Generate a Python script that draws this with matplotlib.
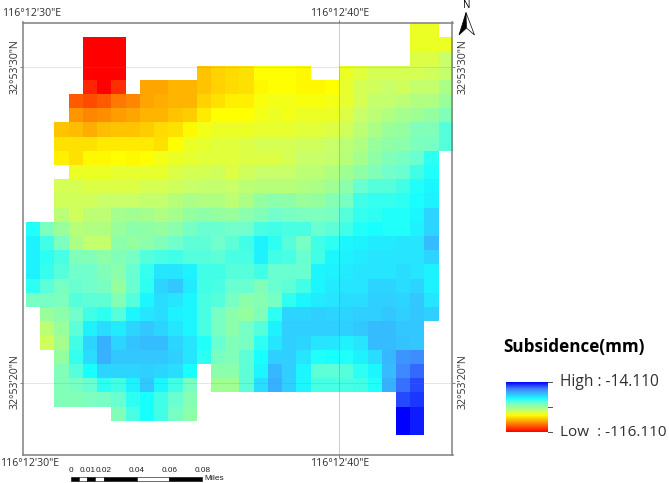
import numpy as np
import matplotlib
matplotlib.use('Agg')
import matplotlib.pyplot as plt
from matplotlib.colors import LinearSegmentedColormap
from matplotlib.patches import Polygon, Rectangle

plt.rcParams['font.family'] = ['Open Sans', 'DejaVu Sans']

W = 669
H = 483
n = np.nan

# subsidence in mm, one list per raster row, top to bottom
r00 = [n]*27 + [-79, -79] + [n]
r01 = [n]*4 + [-116, -116, -116] + [n]*20 + [-79, -79, -79]
r02 = [n]*4 + [-116, -116, -116] + [n]*20 + [-76, -76, -73]
r03 = [n]*4 + [-116, -116, -116] + [n]*5 + [-90, -88, -87, -86, -82, -82, -82, -83] + [n, n] + [-79, -77, -75, -75, -75, -75, -74, -72]
r04 = [n]*4 + [-111, -116, -110] + [n] + [-94, -94, -92, -92, -90, -88, -87, -86, -83, -82, -82, -83, -83, -82, -78, -75, -74, -73, -74, -72, -72, -68]
r05 = [n]*3 + [-104, -106, -104, -100, -98, -94, -93, -92, -92, -88, -86, -84, -84, -81, -80, -80, -81, -81, -80, -78, -75, -72, -72, -71, -69, -69, -65]
r06 = [n]*3 + [-96, -98, -97, -95, -94, -92, -92, -90, -89, -85, -82, -82, -82, -80, -79, -80, -79, -79, -79, -76, -73, -71, -69, -67, -66, -64, -60]
r07 = [n]*2 + [-90, -91, -93, -91, -90, -90, -89, -87, -86, -83, -80, -79, -79, -79, -78, -78, -78, -77, -77, -76, -74, -71, -68, -65, -64, -60, -60, -54]
r08 = [n]*2 + [-86, -86, -86, -85, -85, -85, -85, -86, -82, -79, -78, -77, -77, -76, -75, -75, -75, -74, -74, -73, -71, -69, -65, -63, -62, -59, -58, -54]
r09 = [n]*2 + [-84, -86, -83, -83, -82, -83, -82, -80, -79, -78, -77, -77, -77, -76, -76, -76, -75, -73, -73, -72, -70, -67, -63, -60, -58, -56, -50] + [n]
r10 = [n]*3 + [-79, -79, -79, -78, -78, -78, -78, -76, -75, -75, -74, -76, -74, -73, -73, -73, -71, -71, -69, -66, -63, -60, -57, -56, -52, -49] + [n]
r11 = [n]*2 + [-75, -75, -76, -76, -76, -76, -75, -75, -74, -73, -72, -72, -73, -71, -70, -70, -70, -69, -68, -66, -62, -56, -54, -54, -52, -49, -47] + [n]
r12 = [n]*2 + [-74, -74, -74, -73, -73, -73, -72, -72, -70, -68, -69, -69, -71, -68, -64, -62, -63, -65, -64, -61, -58, -52, -51, -51, -50, -48, -46] + [n]
r13 = [n]*2 + [-71, -74, -71, -71, -67, -66, -67, -69, -67, -64, -63, -64, -65, -62, -60, -57, -58, -59, -59, -58, -54, -51, -50, -49, -49, -47, -42] + [n]
r14 = [-49, -59, -65, -70, -69, -69, -65, -62, -63, -64, -62, -58, -56, -56, -57, -57, -53, -52, -53, -53, -56, -55, -52, -49, -48, -49, -49, -46, -42] + [n]
r15 = [-46, -52, -59, -68, -72, -72, -62, -64, -62, -60, -57, -55, -55, -57, -55, -52, -46, -50, -54, -58, -52, -50, -47, -46, -45, -45, -44, -44, -38] + [n]
r16 = [-46, -50, -53, -60, -60, -63, -60, -58, -54, -53, -52, -54, -54, -55, -53, -53, -46, -52, -53, -56, -52, -47, -46, -45, -44, -44, -44, -44, -42] + [n]
r17 = [-46, -51, -54, -57, -57, -60, -62, -56, -51, -44, -44, -46, -52, -52, -54, -54, -52, -56, -56, -56, -47, -46, -45, -44, -44, -44, -43, -44, -46] + [n]
r18 = [-50, -55, -58, -56, -57, -58, -64, -56, -50, -42, -40, -45, -52, -53, -56, -56, -60, -56, -55, -52, -47, -45, -44, -44, -42, -42, -43, -42, -46] + [n]
r19 = [-58, -58, -59, -54, -55, -55, -60, -54, -47, -43, -44, -47, -53, -54, -58, -62, -61, -58, -50, -47, -45, -44, -43, -43, -41, -41, -42, -40, -44] + [n]
r20 = [n] + [-65, -62, -57, -52, -50, -54, -47, -44, -43, -46, -47, -53, -58, -62, -64, -60, -50, -42, -42, -41, -42, -42, -41, -41, -40, -41, -40, -41] + [n]
r21 = [n] + [-71, -65, -55, -46, -43, -45, -42, -40, -42, -44, -47, -53, -58, -62, -58, -54, -46, -41, -41, -41, -41, -41, -40, -38, -38, -40, -40] + [n, n]
r22 = [n] + [-74, -67, -52, -42, -36, -42, -39, -38, -38, -42, -44, -49, -56, -60, -58, -50, -44, -41, -42, -44, -44, -46, -44, -38, -38, -39, -40] + [n, n]
r23 = [n]*2 + [-64, -51, -43, -36, -40, -40, -40, -40, -41, -44, -50, -58, -60, -55, -48, -41, -41, -44, -49, -48, -49, -46, -43, -37, -31, -30] + [n, n]
r24 = [n]*2 + [-60, -54, -48, -42, -42, -42, -41, -42, -43, -48] + [n] + [-62, -62, -55, -47, -37, -41, -47, -55, -55, -54, -50, -47, -38, -29, -25] + [n, n]
r25 = [n]*2 + [-60, -58, -56, -50, -52, -46, -40, -47, -52, -58] + [n] + [-66, -66, -55, -43, -36, -41, -47, -53, -53, -53, -52, -49, -36, -26, -22] + [n, n]
r26 = [n]*2 + [-60, -60, -59, -58, -56, -50, -48, -52, -56, -61] + [n]*14 + [-22, -20] + [n, n]
r27 = [n]*6 + [-60, -53, -48, -52, -58, -62] + [n]*14 + [-14, -17] + [n, n]
r28 = [n]*26 + [-14, -17] + [n, n]

raster_rows = [r00, r01, r02, r03, r04, r05, r06, r07, r08, r09, r10, r11, r12, r13, r14,
               r15, r16, r17, r18, r19, r20, r21, r22, r23, r24, r25, r26, r27, r28]

low = -116.11
high = -14.11
legend_title = 'Subsidence(mm)'
high_label = 'High : -14.110'
low_label = 'Low  : -116.110'
lon_labels = ['116°12\'30"E', '116°12\'40"E']
lat_labels = ['32°53\'30"N', '32°53\'20"N']
scale_values = ['0', '0.01', '0.02', '0.04', '0.06', '0.08']
scale_miles = [0, 0.01, 0.02, 0.04, 0.06, 0.08]


def px_axes(fig, x0, y0, x1, y1):
    # axes from pixel box, y counted from top
    return fig.add_axes([x0 / W, 1 - y1 / H, (x1 - x0) / W, (y1 - y0) / H])


fig = plt.figure(figsize=(W / 100, H / 100), dpi=100)
# ramp is paler between yellow and blue than a plain rgb blend
cmap = LinearSegmentedColormap.from_list('ryb', [
    (0, '#ff0000'), (1 / 3, '#ffff00'), (0.42, '#ccff66'), (0.5, '#99ff99'),
    (0.58, '#73ffcc'), (2 / 3, '#19ffff'), (0.75, '#33c8ff'), (0.87, '#4080ff'), (1, '#0000ff')])
cmap.set_bad((1, 1, 1, 0))

# map frame, one raster cell is 14.2 px
ax = px_axes(fig, 23.3, 22.5, 452.5, 454.5)
grid = np.ma.masked_invalid(np.array(raster_rows, dtype=float))
ax.imshow(grid, cmap=cmap, vmin=low, vmax=high, aspect='auto', interpolation='nearest',
          extent=(0, 30, 29, 0))
ax.set_xlim(-0.19, 30.03)
ax.set_ylim(30.4, -0.01)
x_grid = [22.04]
y_grid = [3.12, 25.34]
for v in x_grid:
    ax.axvline(v, color='#808080', lw=0.7, alpha=0.4)
for v in y_grid:
    ax.axhline(v, color='#808080', lw=0.7, alpha=0.2)
ax.set_xticks(x_grid)
ax.set_yticks(y_grid)
ax.tick_params(top=True, right=True, length=2, width=0.7, color='#808080',
               labelbottom=False, labelleft=False)
for s in ax.spines.values():
    s.set_color('#808080')
    s.set_linewidth(1.1)

# overlay in pixel coordinates for the map furniture
ov = fig.add_axes([0, 0, 1, 1], facecolor='none')
ov.set_xlim(0, W)
ov.set_ylim(H, 0)
ov.axis('off')

tc = '#303030'
fs = 7.6
ov.text(32, 14, lon_labels[0], ha='center', va='center', fontsize=fs, color=tc)
ov.text(339.5, 14, lon_labels[1], ha='center', va='center', fontsize=fs, color=tc)
ov.text(30, 463, lon_labels[0], ha='center', va='center', fontsize=fs, color=tc)
ov.text(339.5, 463, lon_labels[1], ha='center', va='center', fontsize=fs, color=tc)
for y, lab in zip([67, 382], lat_labels):
    ov.text(15, y, lab, ha='center', va='center', rotation=90, fontsize=fs, color=tc)
    ov.text(463, y, lab, ha='center', va='center', rotation=90, fontsize=fs, color=tc)

# scale bar
bar_x0 = 70.7
bar_px_per_mile = (202.3 - 70.7) / 0.08
edges = [0, 0.005, 0.01, 0.015, 0.02, 0.04, 0.06, 0.08]
for i in range(len(edges) - 1):
    x0 = bar_x0 + edges[i] * bar_px_per_mile
    x1 = bar_x0 + edges[i + 1] * bar_px_per_mile
    ov.add_patch(Rectangle((x0, 476.7), x1 - x0, 4, fc='black' if i % 2 == 0 else 'white',
                           ec='black', lw=0.4))
for m, lab in zip(scale_miles, scale_values):
    ov.text(bar_x0 + m * bar_px_per_mile, 470.5, lab, ha='center', va='center', fontsize=5.9,
            family='Liberation Sans', color='#202020')
ov.text(204.5, 478.5, 'Miles', ha='left', va='center', fontsize=6, family='Liberation Sans',
        color='#202020')

# north arrow
ov.text(467, 5.5, 'N', ha='center', va='center', fontsize=7, color='black')
ov.add_patch(Polygon([(466, 12.5), (459, 35), (466.5, 28)], fc='black', ec='black', lw=0.5))
ov.add_patch(Polygon([(466, 12.5), (474.5, 35), (466.5, 28)], fc='white', ec='black', lw=0.5))

# legend
ov.text(503.5, 347, legend_title, ha='left', va='center', fontsize=12.3, fontweight='bold',
        color='black')
ramp = px_axes(fig, 506.3, 382, 548, 432)
ramp.imshow(np.linspace(high, low, 200).reshape(-1, 1), cmap=cmap, vmin=low, vmax=high, aspect='auto')
ramp.axis('off')
for y in [382, 407, 432]:
    ov.plot([548, 551.5], [y, y], color='#505050', lw=0.7)
ov.text(560, 382, high_label, ha='left', va='center', fontsize=11.2, color=tc)
ov.text(560, 432, low_label, ha='left', va='center', fontsize=11, color=tc)

fig.savefig('out.png', dpi=100)
plt.close()
